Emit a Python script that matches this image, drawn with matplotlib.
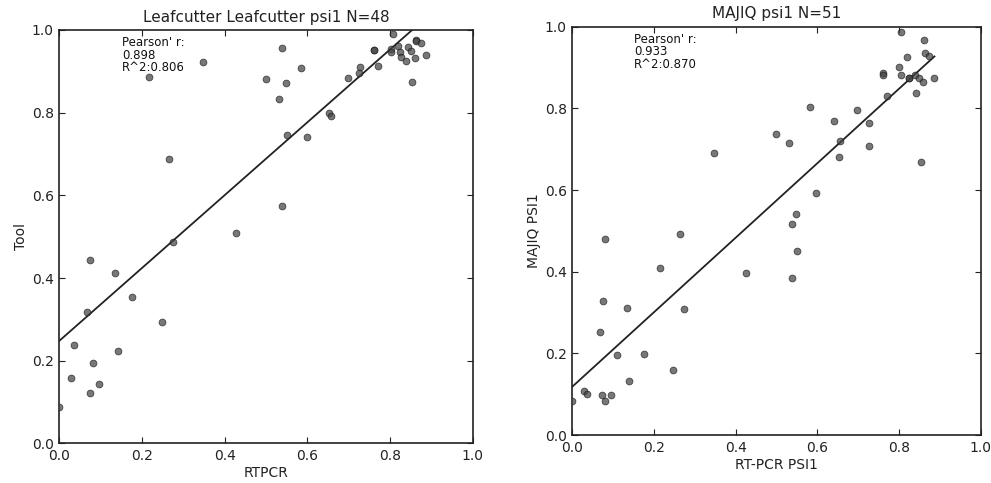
import numpy as np
import matplotlib
matplotlib.use('Agg')
import matplotlib.pyplot as plt

# RT-PCR psi1 vs tool psi1 for each event
leaf_rtpcr = [0.266, 0.539, 0.427, 0.274, 0.075, 0.134, 0.176, 0.067, 0.248, 0.036,
              0.141, 0.080, 0.029, 0.096, 0.073, 0.000, 0.216, 0.347, 0.499, 0.538,
              0.532, 0.548, 0.550, 0.584, 0.599, 0.653, 0.656, 0.698, 0.728, 0.726,
              0.760, 0.760, 0.770, 0.806, 0.862, 0.862, 0.875, 0.887, 0.820, 0.802,
              0.802, 0.825, 0.843, 0.850, 0.826, 0.839, 0.861, 0.853]
leaf_tool = [0.688, 0.575, 0.508, 0.487, 0.444, 0.412, 0.354, 0.319, 0.294, 0.239,
             0.223, 0.195, 0.159, 0.143, 0.121, 0.089, 0.886, 0.922, 0.881, 0.956,
             0.834, 0.872, 0.747, 0.908, 0.741, 0.799, 0.792, 0.884, 0.910, 0.896,
             0.951, 0.951, 0.914, 0.989, 0.975, 0.974, 0.969, 0.940, 0.962, 0.954,
             0.946, 0.947, 0.959, 0.948, 0.935, 0.924, 0.932, 0.874]

majiq_rtpcr = [0.347, 0.653, 0.853, 0.598, 0.549, 0.538, 0.551, 0.426, 0.538, 0.080,
               0.265, 0.216, 0.075, 0.134, 0.274, 0.067, 0.110, 0.176, 0.247, 0.140,
               0.029, 0.037, 0.072, 0.096, 0.080, 0.000, 0.499, 0.531, 0.583, 0.642,
               0.656, 0.697, 0.727, 0.727, 0.770, 0.760, 0.760, 0.800, 0.804, 0.805,
               0.819, 0.824, 0.824, 0.839, 0.849, 0.842, 0.861, 0.863, 0.874, 0.860,
               0.887]
majiq_psi = [0.690, 0.682, 0.669, 0.592, 0.541, 0.517, 0.450, 0.397, 0.384, 0.481,
             0.493, 0.410, 0.328, 0.311, 0.308, 0.252, 0.196, 0.199, 0.160, 0.133,
             0.108, 0.100, 0.098, 0.099, 0.083, 0.084, 0.737, 0.714, 0.803, 0.768,
             0.719, 0.797, 0.765, 0.708, 0.829, 0.887, 0.882, 0.900, 0.882, 0.986,
             0.925, 0.873, 0.873, 0.882, 0.873, 0.838, 0.968, 0.936, 0.927, 0.865,
             0.874]

panels = [
    (leaf_rtpcr, leaf_tool, 'Leafcutter Leafcutter psi1 N=48', 'RTPCR', 'Tool',
     "Pearson' r:\n0.898\nR^2:0.806"),
    (majiq_rtpcr, majiq_psi, 'MAJIQ psi1 N=51', 'RT-PCR PSI1', 'MAJIQ PSI1',
     "Pearson' r:\n0.933\nR^2:0.870"),
]
# axes boxes in figure fractions
boxes = [[0.060, 0.082, 0.417, 0.856], [0.5775, 0.099, 0.412, 0.846]]

fig = plt.figure(figsize=(9.91, 4.83), dpi=100)

for (x, y, title, xlab, ylab, stats), box in zip(panels, boxes):
    ax = fig.add_axes(box)
    x = np.array(x)
    y = np.array(y)
    ax.scatter(x, y, s=24, facecolor='#444444', edgecolor='#1a1a1a',
               linewidths=0.6, alpha=0.72, zorder=3)
    slope, icpt = np.polyfit(x, y, 1)
    xs = np.array([x.min(), x.max()])
    ax.plot(xs, slope * xs + icpt, color='#222222', lw=1.3, zorder=2)
    ax.text(0.151, 0.985, stats, transform=ax.transAxes, va='top', ha='left',
            fontsize=8.5, color='#111111', linespacing=0.95)
    ax.set_xlim(0, 1)
    ax.set_ylim(0, 1)
    ax.set_xticks(np.arange(0, 1.01, 0.2))
    ax.set_yticks(np.arange(0, 1.01, 0.2))
    ax.tick_params(direction='in', top=True, right=True, length=4,
                   labelsize=10, colors='#222222', pad=4)
    for sp in ax.spines.values():
        sp.set_linewidth(1.2)
        sp.set_color('#222222')
    ax.set_title(title, fontsize=11, color='#222222', pad=6)
    ax.set_xlabel(xlab, fontsize=10, color='#222222', labelpad=2)
    ax.set_ylabel(ylab, fontsize=10, color='#222222', labelpad=3)

plt.savefig('out.png', dpi=100, facecolor='white')
